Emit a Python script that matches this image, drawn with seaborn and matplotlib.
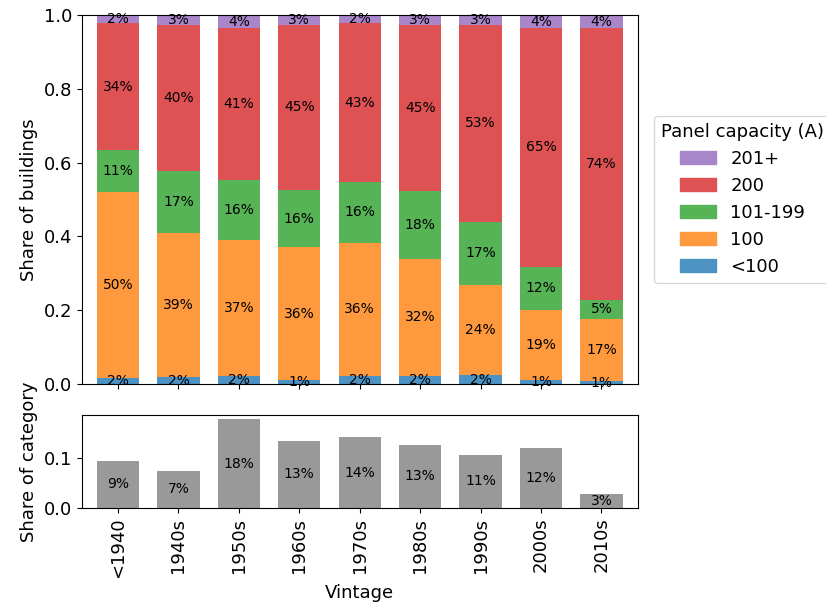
import numpy as np
import pandas as pd
import matplotlib
matplotlib.use("Agg")
import matplotlib.pyplot as plt
import seaborn as sns
from matplotlib.patches import Patch

# Data
vintages = ["<1940", "1940s", "1950s", "1960s", "1970s", "1980s", "1990s", "2000s", "2010s"]
capacity_classes = ["<100", "100", "101-199", "200", "201+"]

share_lt100 = [0.016, 0.018, 0.022, 0.012, 0.022, 0.022, 0.024, 0.010, 0.008]
share_100 = [0.504, 0.392, 0.368, 0.358, 0.361, 0.318, 0.244, 0.190, 0.168]
share_101_199 = [0.114, 0.166, 0.163, 0.157, 0.164, 0.182, 0.172, 0.118, 0.052]
share_200 = [0.344, 0.397, 0.411, 0.446, 0.431, 0.452, 0.532, 0.646, 0.736]
share_201p = [0.022, 0.027, 0.036, 0.027, 0.022, 0.026, 0.028, 0.036, 0.036]

category_share = [0.094, 0.074, 0.176, 0.134, 0.140, 0.126, 0.106, 0.120, 0.028]

# tab colours at alpha 0.8 on white, made opaque so the stacked layers can overlap
colors = {
    "<100": "#4c92c3",
    "100": "#ff993e",
    "101-199": "#56b356",
    "200": "#de5253",
    "201+": "#a985ca",
}

shares = pd.DataFrame({
    "<100": share_lt100,
    "100": share_100,
    "101-199": share_101_199,
    "200": share_200,
    "201+": share_201p,
}, index=vintages)
cum = shares.cumsum(axis=1)

fs = 13

fig = plt.figure(figsize=(8.26, 6.12), dpi=100)
ax_top = fig.add_axes([0.099, 0.3725, 0.673, 0.603])
ax_bot = fig.add_axes([0.099, 0.170, 0.673, 0.152])

# stacked bars: draw cumulative totals from the top layer down
for cls in capacity_classes[::-1]:
    sns.barplot(x=vintages, y=cum[cls].values, color=colors[cls], saturation=1,
                width=0.7, ax=ax_top, order=vintages)

for i, v in enumerate(vintages):
    base = 0
    for cls in capacity_classes:
        val = shares.loc[v, cls]
        ax_top.text(i, base + val / 2, f"{val * 100:.0f}%", ha="center", va="center", fontsize=10)
        base += val

ax_top.set_ylim(0, 1)
ax_top.set_xlim(-0.6, len(vintages) - 0.4)
ax_top.set_ylabel("Share of buildings", fontsize=fs)
ax_top.set_xlabel("")
ax_top.tick_params(axis="x", labelbottom=False)
ax_top.tick_params(axis="y", labelsize=fs)

handles = [Patch(color=colors[c], label=c) for c in capacity_classes[::-1]]
ax_top.legend(handles=handles, title="Panel capacity (A)", loc="center left",
              bbox_to_anchor=(1.013, 0.5), fontsize=fs, title_fontsize=fs)

# share of category per vintage
sns.barplot(x=vintages, y=category_share, color="#999999", saturation=1,
            width=0.7, ax=ax_bot, order=vintages)
for i, val in enumerate(category_share):
    ax_bot.text(i, val / 2, f"{val * 100:.0f}%", ha="center", va="center", fontsize=10)

ax_bot.set_xlim(-0.6, len(vintages) - 0.4)
ax_bot.set_ylim(0, max(category_share) * 1.05)
ax_bot.set_yticks([0.0, 0.1])
ax_bot.set_ylabel("Share of category", fontsize=fs)
ax_bot.set_xlabel("Vintage", fontsize=fs)
ax_bot.tick_params(axis="x", labelrotation=90, labelsize=fs)
ax_bot.tick_params(axis="y", labelsize=fs)

fig.savefig("out.png", dpi=100)
